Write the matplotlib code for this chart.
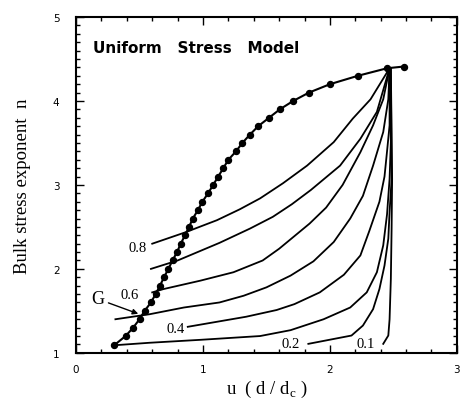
import matplotlib
matplotlib.use("Agg")
import matplotlib.pyplot as plt
from matplotlib.ticker import MultipleLocator

# Dotted "G" curve: n values and corresponding u
g_n = [1.09, 1.2, 1.3, 1.4, 1.5, 1.6, 1.7, 1.8, 1.9, 2.0, 2.1, 2.2, 2.3, 2.4, 2.5,
       2.6, 2.7, 2.8, 2.9, 3.0, 3.1, 3.2, 3.3, 3.4, 3.5, 3.6, 3.7, 3.8, 3.9, 4.0,
       4.1, 4.2, 4.3, 4.39, 4.41]
g_u = [0.30, 0.39, 0.45, 0.50, 0.54, 0.59, 0.627, 0.661, 0.693, 0.727, 0.76, 0.795,
       0.825, 0.858, 0.89, 0.92, 0.96, 0.995, 1.04, 1.08, 1.12, 1.16, 1.20, 1.26,
       1.31, 1.37, 1.435, 1.52, 1.605, 1.71, 1.835, 2.00, 2.22, 2.45, 2.58]

# Family of curves (parameter value -> points)
c08_u = [0.60, 0.87, 0.92, 1.11, 1.29, 1.45, 1.63, 1.82, 2.03, 2.18, 2.32, 2.47]
c08_n = [2.30, 2.44, 2.47, 2.58, 2.71, 2.84, 3.02, 3.23, 3.51, 3.79, 4.02, 4.39]

c07_u = [0.59, 0.80, 1.13, 1.37, 1.55, 1.70, 1.85, 2.08, 2.24, 2.37, 2.47]
c07_n = [2.00, 2.10, 2.31, 2.48, 2.62, 2.77, 2.94, 3.23, 3.55, 3.87, 4.39]

c06_u = [0.60, 0.69, 0.98, 1.24, 1.47, 1.60, 1.72, 1.84, 1.97, 2.10, 2.24, 2.34, 2.42, 2.47]
c06_n = [1.72, 1.76, 1.86, 1.96, 2.10, 2.24, 2.39, 2.54, 2.73, 3.00, 3.39, 3.71, 4.02, 4.39]

c05_u = [0.31, 0.58, 0.85, 1.13, 1.32, 1.50, 1.69, 1.87, 2.03, 2.16, 2.26, 2.34, 2.42, 2.46, 2.47]
c05_n = [1.40, 1.46, 1.54, 1.60, 1.68, 1.78, 1.92, 2.09, 2.32, 2.60, 2.87, 3.23, 3.63, 4.02, 4.39]

c04_u = [0.88, 1.11, 1.34, 1.58, 1.72, 1.92, 2.11, 2.24, 2.31, 2.39, 2.43, 2.45, 2.47, 2.47]
c04_n = [1.31, 1.37, 1.43, 1.51, 1.58, 1.72, 1.93, 2.16, 2.45, 2.80, 3.10, 3.40, 3.71, 4.39]

c03_u = [0.30, 0.58, 0.98, 1.45, 1.69, 1.95, 2.16, 2.29, 2.37, 2.42, 2.45, 2.47, 2.48, 2.47]
c03_n = [1.09, 1.12, 1.155, 1.20, 1.27, 1.40, 1.54, 1.72, 1.96, 2.28, 2.65, 3.07, 3.51, 4.39]

c02_u = [1.83, 2.17, 2.26, 2.34, 2.39, 2.43, 2.46, 2.47, 2.486, 2.48]
c02_n = [1.107, 1.206, 1.325, 1.52, 1.76, 2.04, 2.36, 2.68, 3.07, 4.39]

c01_u = [2.42, 2.46, 2.47, 2.48, 2.486, 2.49, 2.48]
c01_n = [1.107, 1.206, 1.40, 1.88, 2.48, 3.07, 4.39]

curves = [(c08_u, c08_n), (c07_u, c07_n), (c06_u, c06_n), (c05_u, c05_n),
          (c04_u, c04_n), (c03_u, c03_n), (c02_u, c02_n), (c01_u, c01_n)]

# Curve labels
lab_text = ["0.8", "0.6", "0.4", "0.2", "0.1"]
lab_u = [0.485, 0.425, 0.785, 1.69, 2.28]
lab_n = [2.26, 1.70, 1.29, 1.115, 1.11]

fig = plt.figure(figsize=(4.61, 4.10), dpi=100)
ax = fig.add_axes([0.165, 0.137, 0.826, 0.819])

for cu, cn in curves:
    ax.plot(cu, cn, color="black", lw=1.3, solid_joinstyle="round")

ax.plot(g_u, g_n, color="black", lw=1.5, marker="o", markersize=4.3,
        markerfacecolor="black", markeredgecolor="black")

serif = ["Liberation Serif", "DejaVu Serif"]
for t, x, y in zip(lab_text, lab_u, lab_n):
    ax.text(x, y, t, fontsize=10.5, family=serif, ha="center", va="center")

ax.text(0.168, 1.645, "G", fontsize=13, family=serif, ha="center", va="center")
ax.annotate("", xy=(0.49, 1.465), xytext=(0.255, 1.595),
            arrowprops=dict(arrowstyle="-|>", color="black", lw=1.0,
                            mutation_scale=8, shrinkA=0, shrinkB=0))

ax.text(0.134, 4.637, "Uniform   Stress   Model", fontsize=11,
        fontweight="bold", family=["DejaVu Sans"],
        ha="left", va="center")

ax.set_xlim(0, 3)
ax.set_ylim(1, 5)
ax.xaxis.set_major_locator(MultipleLocator(1))
ax.xaxis.set_minor_locator(MultipleLocator(0.2))
ax.yaxis.set_major_locator(MultipleLocator(1))
ax.yaxis.set_minor_locator(MultipleLocator(0.1))
ax.tick_params(which="both", direction="in", top=True, right=True, width=1.0)
ax.tick_params(which="major", length=6, labelsize=7.5)
ax.tick_params(axis="y", which="major", pad=12)
ax.tick_params(axis="x", which="major", pad=8)
ax.tick_params(which="minor", length=3)
for s in ax.spines.values():
    s.set_linewidth(1.5)

ax.set_ylabel("Bulk stress exponent  n", fontsize=13.5, family=serif, labelpad=16)
ax.set_xlabel(r"u  ( d / d$_{\mathregular{c}}$ )", fontsize=13.5, family=serif, labelpad=3)

fig.savefig("out.png", dpi=100)
